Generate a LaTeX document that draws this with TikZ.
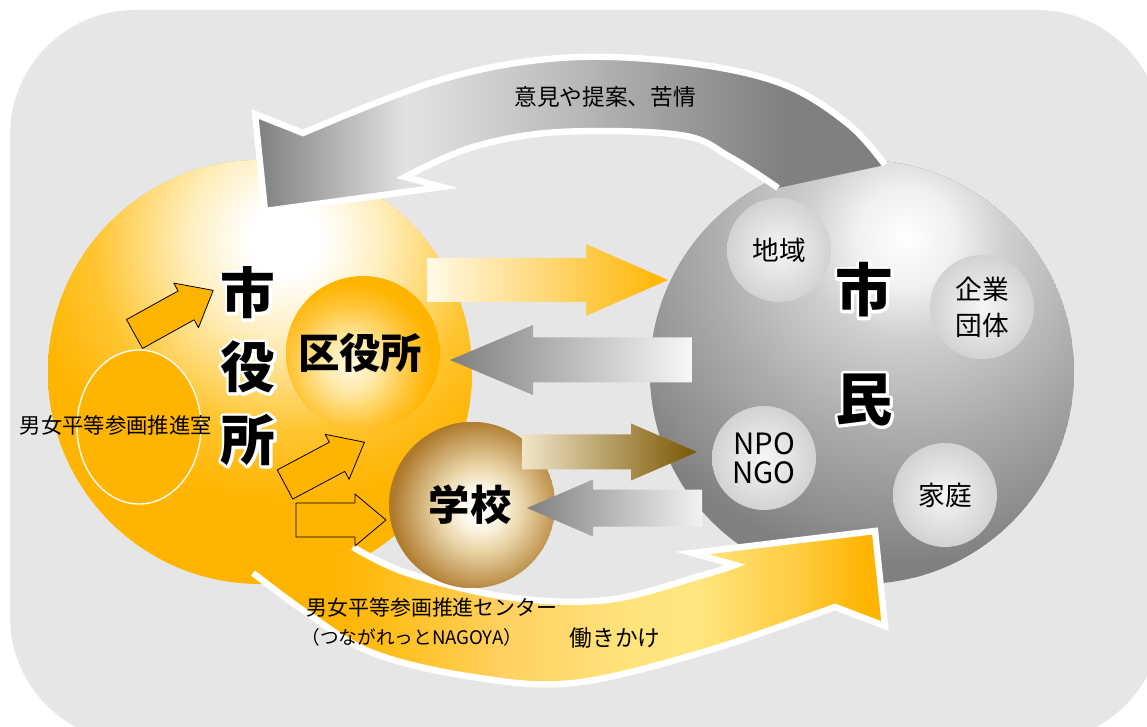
\documentclass[tikz,border=0pt]{standalone}
\usepackage{fontspec}
\setmainfont{Noto Sans CJK JP}

\definecolor{bggray}{HTML}{E6E6E6}
\definecolor{orange0}{HTML}{FFB400}
\definecolor{sunA}{HTML}{FFEFC0}
\definecolor{sunB}{HTML}{FFC530}
\definecolor{wardA}{HTML}{FFF8E4}
\definecolor{wardB}{HTML}{FFE9A8}
\definecolor{wardC}{HTML}{FFC63A}
\definecolor{schA}{HTML}{FFFAF0}
\definecolor{schB}{HTML}{EAD5A8}
\definecolor{schC}{HTML}{AE7A2C}
\definecolor{citA}{HTML}{F0F0F0}
\definecolor{citB}{HTML}{CFCFCF}
\definecolor{citC}{HTML}{ABABAB}
\definecolor{citD}{HTML}{8E8E8E}
\definecolor{cit0}{HTML}{808080}
\definecolor{miniIn}{HTML}{F6F6F6}
\definecolor{miniOut}{HTML}{D2D2D2}
\definecolor{gA}{HTML}{7E7E7E}
\definecolor{gB}{HTML}{E2E2E2}
\definecolor{gC}{HTML}{DADADA}
\definecolor{gD}{HTML}{BEBEBE}
\definecolor{gE}{HTML}{9A9A9A}
\definecolor{ybB}{HTML}{FFC020}
\definecolor{ybC}{HTML}{FFD060}
\definecolor{ybD}{HTML}{FFE27A}
\definecolor{ybE}{HTML}{FFE680}
\definecolor{ybF}{HTML}{FFCC40}
\definecolor{ylwL}{HTML}{FFFAE8}
\definecolor{brwL}{HTML}{F0E6C8}
\definecolor{brwM}{HTML}{B89448}
\definecolor{brwR}{HTML}{7A5500}

% balls with the highlight off centre
\pgfdeclareradialshading{cityball}{\pgfpointorigin}{color(0bp)=(white); color(3bp)=(white); color(8bp)=(sunA); color(16bp)=(sunB); color(22bp)=(orange0); color(50bp)=(orange0)}
\pgfdeclareradialshading{wardball}{\pgfpointorigin}{color(0bp)=(wardA); color(8bp)=(wardB); color(18bp)=(wardC); color(25bp)=(orange0); color(50bp)=(orange0)}
\pgfdeclareradialshading{schoolball}{\pgfpointorigin}{color(0bp)=(white); color(5bp)=(schA); color(12bp)=(schB); color(25bp)=(schC); color(50bp)=(schC)}
\pgfdeclareradialshading{citizenball}{\pgfpointorigin}{color(0bp)=(white); color(3.7bp)=(citA); color(7.4bp)=(citB); color(14.7bp)=(citC); color(21.3bp)=(citD); color(24bp)=(cit0); color(50bp)=(cit0)}
% the two curved bands
\pgfdeclarehorizontalshading{opinionband}{100bp}{color(0bp)=(gA); color(25bp)=(gA); color(37bp)=(gB); color(40bp)=(gC); color(49bp)=(gD); color(59bp)=(gE); color(67bp)=(cit0); color(100bp)=(cit0)}
\pgfdeclarehorizontalshading{actionband}{100bp}{color(0bp)=(orange0); color(31bp)=(orange0); color(36.6bp)=(ybB); color(44.5bp)=(ybC); color(54bp)=(ybD); color(60bp)=(ybE); color(68bp)=(ybF); color(73.6bp)=(orange0); color(100bp)=(orange0)}

% tail x, head base x, tip x, mid y, body half, head half
\newcommand{\blockarrow}[6]{(#1,#4-#5) -- (#2,#4-#5) -- (#2,#4-#6) -- (#3,#4) -- (#2,#4+#6) -- (#2,#4+#5) -- (#1,#4+#5) -- cycle}
% white rim behind black glyphs
\newcommand{\rimmed}[1]{\leavevmode\rlap{\special{pdf:literal direct 1 Tr 1 1 1 RG 4.4 w 1 j}#1\special{pdf:literal direct 0 Tr 0 0 0 RG 1 w}}#1}

\tikzset{
  bandline/.style={draw=white, line width=4.8pt, line join=miter, miter limit=10},
  smallarrow/.style={fill=orange0, draw=black, line width=0.6pt},
  bigkanji/.style={font=\fontsize{41}{41}\selectfont\bfseries, inner sep=0pt},
  ballkanji/.style={font=\fontsize{31}{31}\selectfont\bfseries, inner sep=0pt},
  minilabel/.style={font=\fontsize{20}{27}\selectfont, align=center, inner sep=0pt},
  bandlabel/.style={font=\fontsize{17}{20}\selectfont, inner sep=0pt}
}

\begin{document}
\begin{tikzpicture}[x=0.75pt, y=-0.75pt, line join=round]
  \useasboundingbox (0,0) rectangle (1147,727);
  \fill[white] (0,0) rectangle (1147,727);
  \fill[bggray, rounded corners=94pt] (10,10) rectangle (1162,742);

  \coordinate (city) at (260,372);
  \coordinate (citizen) at (862,372);
  \coordinate (ward) at (363,353);
  \coordinate (school) at (472,505);
  \coordinate (area) at (779,250);
  \coordinate (corp) at (982,307);
  \coordinate (npo) at (764,458);
  \coordinate (home) at (945,495);

  % city hall
  \begin{scope}
    \clip (city) circle (212);
    \fill[orange0] (city) circle (212);
    \shade[shading=cityball] (285,240) circle (300);
  \end{scope}
  \filldraw[fill=orange0, draw=white, line width=1pt] (139,427) ellipse (62 and 77);

  % citizens
  \begin{scope}
    \clip (citizen) circle (212);
    \fill[cit0] (citizen) circle (212);
    \shade[shading=citizenball] (905,238) circle (340);
  \end{scope}
  \foreach \p in {area, corp, npo, home}
    \shade[inner color=miniIn, outer color=miniOut] (\p) circle (52);

  % upper band
  \shade[shading=opinionband] (778,188) -- (885,165)
    -- plot[smooth, tension=0.6] coordinates {(885,165) (847,123) (780,83) (680,62) (560,58) (440,80) (303,133)}
    -- (255,114) -- (265,211) -- (442,187)
    -- plot[smooth, tension=0.6] coordinates {(405,177) (473,147) (560,132) (680,135) (730,157) (778,188)} -- cycle;
  \draw[bandline] plot[smooth, tension=0.6] coordinates {(885,165) (847,123) (780,83) (680,62) (560,58) (440,80) (303,133)}
    -- (255,114) -- (265,211) -- (442,187)
    -- plot[smooth, tension=0.6] coordinates {(405,177) (473,147) (560,132) (680,135) (730,157) (778,188)};

  % lower band
  \shade[shading=actionband] (253,573)
    -- plot[smooth, tension=0.6] coordinates {(353,547) (407,573) (507,597) (607,600) (700,576) (735,565)}
    -- (692,553) -- (875,531) -- (885,626)
    -- plot[smooth, tension=0.6] coordinates {(835,607) (700,653) (573,683) (473,677) (373,653) (307,613) (253,573)} -- cycle;
  \draw[bandline] plot[smooth, tension=0.6] coordinates {(353,547) (407,573) (507,597) (607,600) (700,576) (735,565)}
    -- (692,553) -- (875,531) -- (885,626)
    -- plot[smooth, tension=0.6] coordinates {(835,607) (700,653) (573,683) (473,677) (373,653) (307,613) (253,573)};

  % ward office and school
  \begin{scope}
    \clip (ward) circle (77);
    \fill[orange0] (ward) circle (77);
    \shade[shading=wardball] (350,365) circle (82);
  \end{scope}
  \begin{scope}
    \clip (school) circle (83);
    \fill[schC] (school) circle (83);
    \shade[shading=schoolball] (480,508) circle (88);
  \end{scope}

  % straight arrows
  \shade[left color=ylwL, right color=orange0] \blockarrow{427}{586}{668}{280}{22}{36};
  \shade[left color=gA, right color=white!97!black] \blockarrow{692}{533}{450}{360}{22.5}{35};
  \shade[left color=brwL, middle color=brwM, right color=brwR] \blockarrow{522}{631}{697}{452}{17.5}{28.5};
  \shade[left color=cit0, right color=white!95!black] \blockarrow{702}{593}{527}{508}{18.5}{28.5};

  \begin{scope}[shift={(134.5,334)}, rotate=29]
    \filldraw[smallarrow] \blockarrow{0}{59}{90}{0}{16.5}{25.5};
  \end{scope}
  \begin{scope}[shift={(285,484.5)}, rotate=28]
    \filldraw[smallarrow] \blockarrow{0}{59}{90}{0}{16.5}{25.5};
  \end{scope}
  \filldraw[smallarrow] \blockarrow{296}{355}{386}{520}{17}{26};

  % labels
  \node[bandlabel] (opinion) at (605,97) {意見や提案、苦情};
  \node[font=\fontsize{16}{18}\selectfont, inner sep=0pt] (office) at (116,425) {男女平等参画推進室};
  \node[bigkanji] (c1) at (248,293) {\rimmed{市}};
  \node[bigkanji] (c2) at (248,367) {\rimmed{役}};
  \node[bigkanji] (c3) at (248,440) {\rimmed{所}};
  \node[ballkanji] (wardtxt) at (360,353) {区役所};
  \node[ballkanji] (schooltxt) at (470,505) {学校};
  \node[bigkanji, font=\fontsize{43}{43}\selectfont\bfseries] (p1) at (864,290) {\rimmed{市}};
  \node[bigkanji, font=\fontsize{43}{43}\selectfont\bfseries] (p2) at (864,400) {\rimmed{民}};
  \node[minilabel] (areatxt) at (area) {地域};
  \node[minilabel] (corptxt) at (corp) {企業\\団体};
  \node[minilabel, font=\fontsize{22}{22}\selectfont] (npotxt) at (npo) {NPO\\NGO};
  \node[minilabel] (hometxt) at (home) {家庭};
  \node[font=\fontsize{15.7}{18}\selectfont, inner sep=0pt] (center) at (432,608) {男女平等参画推進センター};
  \node[font=\fontsize{14}{16}\selectfont, inner sep=0pt] (nick) at (412,637) {（つながれっとNAGOYA）};
  \node[bandlabel] (action) at (615,638) {働きかけ};
\end{tikzpicture}
\end{document}
